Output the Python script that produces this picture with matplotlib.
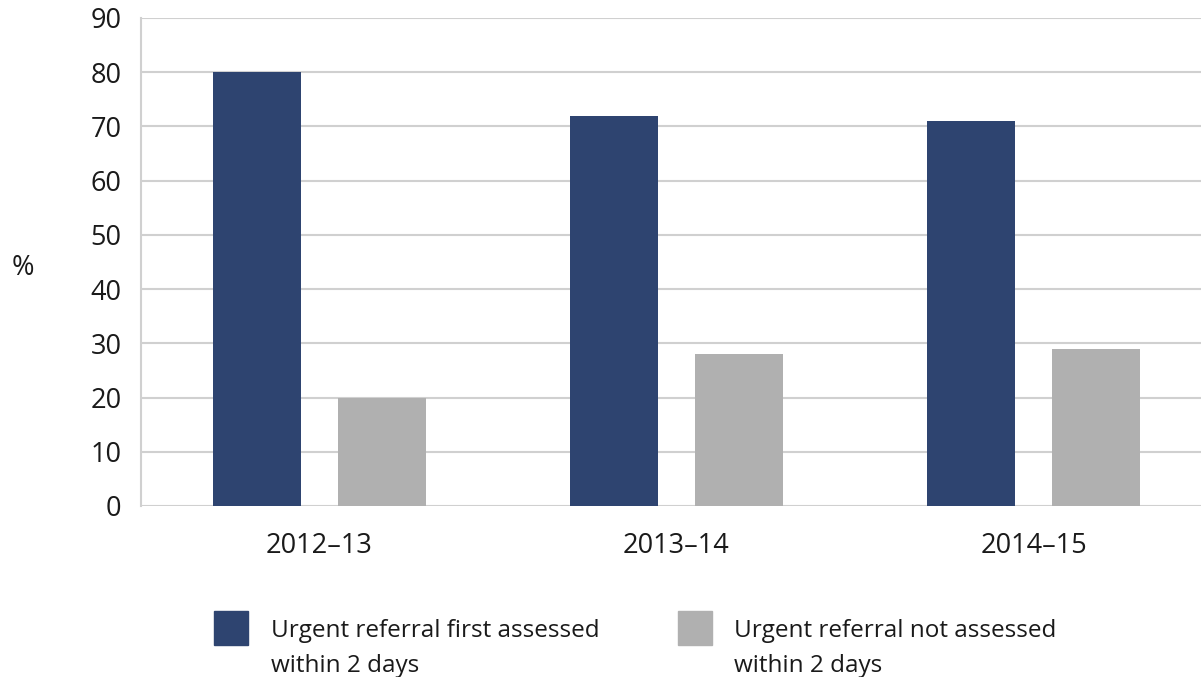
import numpy as np
import matplotlib.pyplot as plt
from matplotlib.patches import Rectangle

years = ["2012–13", "2013–14", "2014–15"]
first_assessed = [80, 72, 71]
not_assessed = [20, 28, 29]
labels = ["Urgent referral first assessed\nwithin 2 days",
          "Urgent referral not assessed\nwithin 2 days"]
colors = ["#2E4470", "#B0B0B0"]

plt.rcParams["font.family"] = ["Open Sans", "DejaVu Sans"]

W, H = 1201, 677
fig = plt.figure(figsize=(W / 100, H / 100), dpi=100)
ax = fig.add_axes([141 / W, (H - 506) / H, (1212 - 141) / W, (506 - 18) / H])

x = np.arange(len(years))
bw = 0.2465
ax.bar(x - 0.175, first_assessed, bw, color=colors[0], zorder=3)
ax.bar(x + 0.175, not_assessed, bw, color=colors[1], zorder=3)

ax.set_xlim(-0.5, 2.5)
ax.set_ylim(0, 90)
ax.set_yticks(range(0, 91, 10))
ax.set_xticks(x)
ax.set_xticklabels(years)
ax.tick_params(axis="both", length=0, labelsize=19.5, colors="#1a1a1a")
ax.tick_params(axis="y", pad=14)
ax.tick_params(axis="x", pad=19)
ax.grid(axis="y", color="#D0D0D0", linewidth=1.5, zorder=0)
ax.set_axisbelow(True)
for s in ["top", "right", "bottom"]:
    ax.spines[s].set_visible(False)
ax.spines["left"].set_color("#D0D0D0")
ax.spines["left"].set_linewidth(1.5)

fig.text(23 / W, 1 - 268 / H, "%", fontsize=19.5, color="#1a1a1a",
         ha="center", va="center")

# legend, drawn by hand
for i, (px, tx) in enumerate([(214, 271), (678, 734)]):
    fig.add_artist(Rectangle((px / W, 1 - 645 / H), 34 / W, 34 / H,
                             transform=fig.transFigure, color=colors[i]))
    fig.text(tx / W, 1 - 619 / H, labels[i], fontsize=17.5, color="#1a1a1a",
             ha="left", va="top", linespacing=1.62)

fig.savefig("out.png", dpi=100)
